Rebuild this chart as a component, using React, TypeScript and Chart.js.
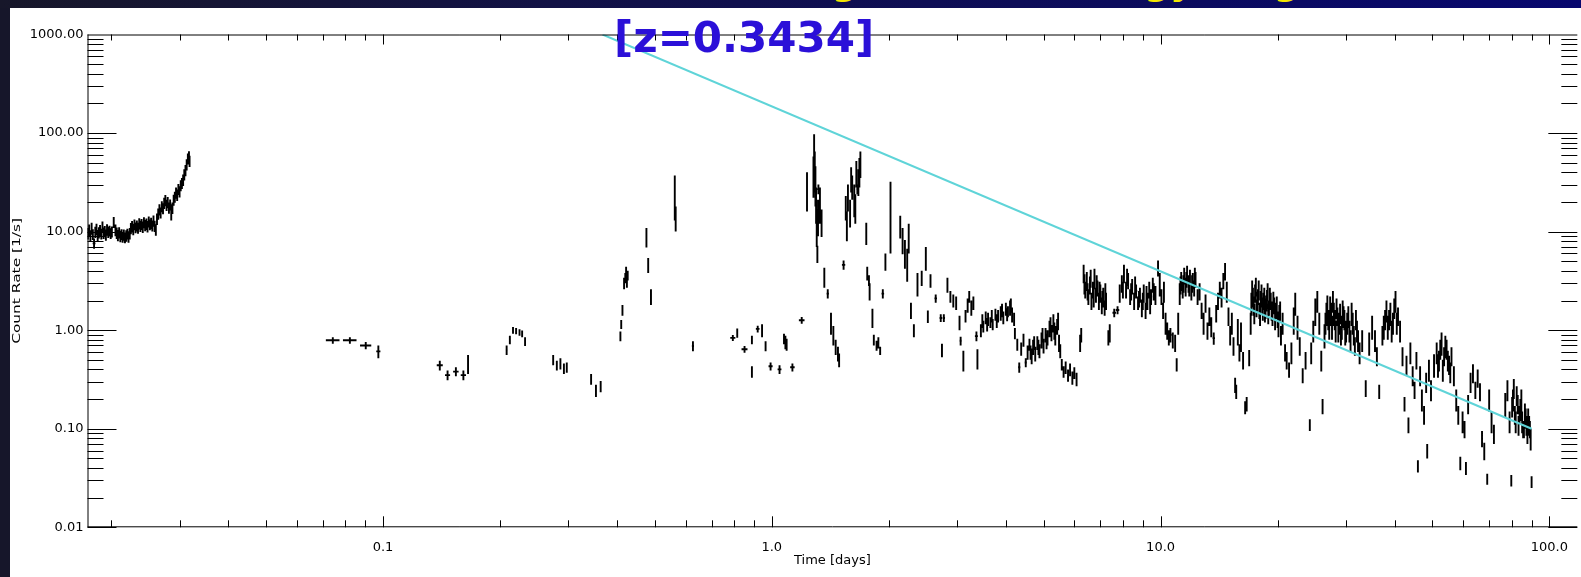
import React, { useEffect, useRef } from 'react';
import { Chart, registerables } from 'chart.js';

Chart.register(...registerables);

// Axis ranges and labels
const X_MIN = 0.01738;
const X_MAX = 118;
const Y_MIN = 0.01;
const Y_MAX = 1000;
const xTickValues = [0.1, 1, 10, 100];
const xTickLabels = ['0.1', '1.0', '10.0', '100.0'];
const yTickValues = [0.01, 0.1, 1, 10, 100, 1000];
const yTickLabels = ['0.01', '0.10', '1.00', '10.00', '100.00', '1000.00'];
const xTitle = 'Time [days]';
const yTitle = 'Count Rate [1/s]';
const redshiftLabel = '[z=0.3434]';
const bannerText = 'Swift-XRT light curve, energy range 0.3–10 keV (Burst Analyser)';

// Power-law decay model (cyan line): end points
const modelTime = [0.367, 90];
const modelRate = [1000, 0.1];

// Data points: [time (days), count rate (1/s), rate error, time half-width (optional)]
const earlyFlare: number[][] = [
  [0.01742, 9.6, 1.3], [0.01755, 10.4, 1.4], [0.01768, 9.1, 1.2], [0.01781, 10.8, 1.5],
  [0.01794, 9.4, 1.2], [0.01807, 7.6, 0.9, 0.00015], [0.0182, 9.9, 1.3], [0.01833, 10.6, 1.4],
  [0.01846, 9.2, 1.2], [0.01859, 9.8, 1.3], [0.01872, 10.3, 1.4], [0.01886, 9.5, 1.2],
  [0.01899, 11.2, 1.5], [0.01912, 9.7, 1.3], [0.01925, 10.1, 1.3], [0.01938, 9.3, 1.2],
  [0.01951, 10.5, 1.4], [0.01965, 9.9, 1.3], [0.0198, 10.2, 1.3], [0.01994, 9.6, 1.2],
  [0.02008, 10.0, 1.3], [0.0203, 12.5, 1.6], [0.02051, 10.4, 1.4], [0.02066, 9.7, 1.3],
  [0.02081, 9.2, 1.2], [0.02096, 9.8, 1.3], [0.02111, 9.0, 1.2], [0.02126, 9.4, 1.2],
  [0.0214, 8.8, 1.1], [0.02155, 9.3, 1.2], [0.0217, 8.7, 1.1], [0.02186, 9.1, 1.2],
  [0.02201, 9.5, 1.2], [0.02216, 8.9, 1.2], [0.02232, 9.6, 1.3], [0.02247, 10.8, 1.4],
  [0.02263, 11.3, 1.5], [0.02279, 10.6, 1.4], [0.02295, 11.8, 1.5], [0.02311, 11.0, 1.4],
  [0.02328, 11.5, 1.5], [0.02344, 10.9, 1.4], [0.02361, 12.1, 1.6], [0.02377, 11.4, 1.5],
  [0.02394, 11.9, 1.5], [0.02411, 11.2, 1.5], [0.02428, 12.4, 1.6], [0.02445, 11.6, 1.5],
  [0.02463, 12.0, 1.6], [0.0248, 11.3, 1.5], [0.02498, 12.6, 1.6], [0.02515, 11.8, 1.5],
  [0.02533, 12.2, 1.6], [0.02551, 11.5, 1.5], [0.02569, 12.9, 1.7], [0.02587, 11.4, 1.5],
  [0.02605, 10.5, 1.4], [0.02623, 13.5, 1.8], [0.02642, 15.2, 2.0], [0.02661, 16.8, 2.2],
  [0.0268, 15.6, 2.0], [0.02699, 18.0, 2.3], [0.02718, 17.2, 2.2], [0.02737, 19.5, 2.5],
  [0.02756, 20.8, 2.7], [0.02776, 18.6, 2.4], [0.02795, 19.9, 2.6], [0.02815, 17.5, 2.3],
  [0.02835, 18.8, 2.4], [0.02854, 16.0, 3.0], [0.02874, 17.4, 2.3], [0.02895, 21.0, 2.7],
  [0.02915, 22.5, 2.9], [0.02936, 24.8, 3.2], [0.02956, 23.6, 3.1], [0.02977, 27.0, 3.5],
  [0.02998, 25.5, 3.3], [0.03019, 29.5, 3.8], [0.0304, 31.0, 4.0], [0.03062, 33.5, 4.4],
  [0.03083, 38.0, 5.0], [0.03105, 42.0, 5.5], [0.03127, 48.0, 6.2], [0.03149, 55.0, 7.0],
  [0.0317, 58.0, 7.5], [0.03181, 52.0, 6.8],
];

const sparseOrbits: number[][] = [
  [0.0743, 0.79, 0.06, 0.003], [0.0822, 0.79, 0.06, 0.0033], [0.0903, 0.7, 0.06, 0.003],
  [0.0973, 0.61, 0.09, 0.0012], [0.14, 0.44, 0.05, 0.0025], [0.1466, 0.35, 0.04, 0.0022],
  [0.154, 0.38, 0.04, 0.0025], [0.161, 0.35, 0.04, 0.0025], [0.1655, 0.46, 0.1, 0.0008],
  [0.208, 0.63, 0.07, 0.0012], [0.212, 0.8, 0.08, 0.001], [0.216, 1.0, 0.08, 0.0012],
  [0.22, 0.98, 0.07, 0.0012], [0.2245, 0.95, 0.07, 0.0012], [0.228, 0.92, 0.07, 0.0012],
  [0.232, 0.77, 0.08, 0.0008], [0.274, 0.5, 0.06, 0.0015], [0.28, 0.44, 0.05, 0.0015],
  [0.286, 0.46, 0.06, 0.0015], [0.292, 0.41, 0.05, 0.0012], [0.297, 0.42, 0.05, 0.0015],
  [0.343, 0.32, 0.04, 0.0018], [0.353, 0.245, 0.035, 0.002], [0.363, 0.27, 0.035, 0.002],
];

const firstDay: number[][] = [
  [0.408, 0.87, 0.1], [0.41, 1.15, 0.12], [0.413, 1.6, 0.2], [0.417, 3.0, 0.4],
  [0.42, 3.4, 0.4], [0.422, 3.9, 0.5], [0.424, 3.2, 0.5], [0.426, 3.6, 0.4],
  [0.476, 8.9, 2.0], [0.481, 4.6, 0.8], [0.489, 2.2, 0.4], [0.563, 25, 12],
  [0.566, 14, 4], [0.627, 0.69, 0.08, 0.004], [0.794, 0.835, 0.06, 0.012], [0.815, 0.94, 0.1],
  [0.851, 0.64, 0.05, 0.015], [0.889, 0.8, 0.08], [0.889, 0.38, 0.05], [0.92, 1.03, 0.08, 0.01],
  [0.944, 1.0, 0.15], [0.964, 0.69, 0.08], [0.993, 0.43, 0.04, 0.012], [1.047, 0.4, 0.04, 0.012],
  [1.075, 0.82, 0.1], [1.084, 0.76, 0.12], [1.092, 0.72, 0.1], [1.13, 0.42, 0.04, 0.015],
  [1.194, 1.26, 0.1, 0.02],
];

const mainFlares: number[][] = [
  [1.232, 28, 12], [1.28, 40, 18], [1.285, 65, 32], [1.29, 45, 20], [1.295, 32, 14], [1.3, 20, 8],
  [1.305, 12, 5], [1.31, 6.0, 1.2], [1.315, 15, 6], [1.318, 27, 3, 0.01], [1.33, 20, 8],
  [1.343, 12.8, 4], [1.365, 3.5, 0.8], [1.393, 2.35, 0.25, 0.01], [1.42, 1.2, 0.3], [1.44, 0.9, 0.2],
  [1.46, 0.68, 0.12], [1.48, 0.58, 0.1, 0.006], [1.49, 0.5, 0.08], [1.53, 4.6, 0.5, 0.015],
  [1.55, 18, 5], [1.56, 12, 4], [1.57, 23, 7], [1.59, 16, 5], [1.6, 35, 10], [1.61, 29, 8],
  [1.63, 22, 8], [1.64, 18, 6], [1.65, 40, 12], [1.66, 27, 3, 0.01], [1.67, 33, 10], [1.68, 42, 14],
  [1.69, 50, 15], [1.75, 9.8, 2.5], [1.76, 3.8, 0.6], [1.778, 3.2, 0.4, 0.01], [1.785, 2.5, 0.5],
  [1.815, 1.35, 0.3], [1.83, 0.8, 0.1], [1.86, 0.7, 0.08], [1.88, 0.75, 0.1], [1.9, 0.62, 0.06],
  [1.93, 2.35, 0.25, 0.015], [1.96, 5.0, 1.0], [2.02, 19, 13], [2.14, 11.5, 3], [2.17, 8.4, 2.5],
  [2.2, 6.2, 2], [2.23, 4.9, 1.8], [2.25, 9, 3], [2.28, 1.6, 0.3], [2.32, 1.0, 0.15],
  [2.37, 3.0, 0.8], [2.43, 3.4, 0.6], [2.49, 5.5, 1.5], [2.52, 1.38, 0.2], [2.56, 3.2, 0.5],
  [2.64, 2.1, 0.2, 0.02], [2.72, 1.33, 0.12, 0.02], [2.74, 0.63, 0.1], [2.77, 1.33, 0.12, 0.02],
  [2.83, 2.9, 0.5], [2.88, 2.2, 0.3], [2.93, 2.0, 0.3], [2.98, 1.9, 0.3], [3.04, 1.2, 0.2],
  [3.06, 0.78, 0.08, 0.02], [3.11, 0.5, 0.12],
];

const plateau: number[][] = [
  [3.15, 1.4, 0.2], [3.19, 1.8, 0.3], [3.22, 2.2, 0.3], [3.26, 1.7, 0.3], [3.3, 1.9, 0.3],
  [3.36, 0.87, 0.1, 0.03], [3.38, 0.52, 0.12], [3.45, 1.0, 0.15], [3.48, 1.25, 0.2], [3.5, 1.1, 0.15],
  [3.55, 1.35, 0.2], [3.58, 1.15, 0.18], [3.6, 1.3, 0.2], [3.65, 1.2, 0.15], [3.68, 1.4, 0.2],
  [3.7, 1.15, 0.15], [3.76, 1.45, 0.2], [3.79, 1.25, 0.2], [3.82, 1.4, 0.2], [3.88, 1.5, 0.25],
  [3.91, 1.6, 0.25], [3.94, 1.35, 0.2], [4.0, 1.65, 0.25], [4.03, 1.45, 0.22], [4.05, 1.55, 0.2],
  [4.1, 1.7, 0.3], [4.12, 1.8, 0.3], [4.15, 1.45, 0.25], [4.2, 1.3, 0.2], [4.22, 0.93, 0.12],
  [4.28, 0.72, 0.1], [4.33, 0.42, 0.05, 0.03], [4.38, 0.65, 0.1], [4.44, 0.8, 0.12],
  [4.5, 0.47, 0.05, 0.03], [4.55, 0.6, 0.1], [4.6, 0.72, 0.1], [4.63, 0.6, 0.1], [4.66, 0.55, 0.1],
  [4.7, 0.68, 0.12], [4.73, 0.75, 0.12], [4.76, 0.58, 0.1], [4.82, 0.75, 0.12], [4.85, 0.68, 0.12],
  [4.88, 0.62, 0.1], [4.94, 0.8, 0.15], [4.97, 0.9, 0.15], [5.0, 0.7, 0.12], [5.06, 0.9, 0.15],
  [5.09, 0.78, 0.14], [5.12, 0.85, 0.15], [5.18, 1.05, 0.2], [5.21, 1.15, 0.2], [5.24, 0.95, 0.18],
  [5.3, 1.2, 0.25], [5.33, 1.0, 0.2], [5.36, 0.9, 0.2], [5.42, 1.1, 0.2], [5.45, 1.25, 0.25],
  [5.48, 0.75, 0.15], [5.52, 0.62, 0.1], [5.57, 0.45, 0.06], [5.63, 0.38, 0.05], [5.7, 0.42, 0.06],
  [5.78, 0.35, 0.05], [5.85, 0.4, 0.06], [5.93, 0.33, 0.05], [6.0, 0.37, 0.05], [6.08, 0.32, 0.05],
  [6.21, 0.75, 0.15], [6.25, 0.9, 0.15],
];

const secondBump: number[][] = [
  [6.34, 3.8, 0.8], [6.37, 3.0, 0.7], [6.4, 2.6, 0.5], [6.46, 3.2, 0.7], [6.49, 2.5, 0.5],
  [6.52, 2.2, 0.4], [6.58, 2.9, 0.6], [6.61, 3.4, 0.7], [6.64, 2.0, 0.4], [6.7, 2.6, 0.5],
  [6.73, 2.2, 0.5], [6.76, 3.4, 0.8], [6.82, 2.3, 0.4], [6.85, 3.0, 0.6], [6.88, 2.7, 0.5],
  [6.94, 2.0, 0.4], [6.97, 2.6, 0.5], [7.0, 2.4, 0.5], [7.06, 1.8, 0.35], [7.09, 2.1, 0.4],
  [7.12, 2.2, 0.5], [7.18, 1.7, 0.3], [7.21, 2.5, 0.5], [7.24, 2.0, 0.4], [7.34, 0.85, 0.15],
  [7.4, 0.95, 0.2], [7.6, 1.5, 0.15, 0.08], [7.75, 1.6, 0.15, 0.08], [7.85, 2.4, 0.5],
  [7.95, 3.0, 0.6], [8.0, 2.6, 0.5], [8.05, 3.8, 0.8], [8.15, 2.6, 0.5], [8.2, 3.5, 0.7],
  [8.25, 3.2, 0.6], [8.35, 2.2, 0.4], [8.4, 2.5, 0.5], [8.45, 2.8, 0.5], [8.55, 2.0, 0.4],
  [8.6, 2.9, 0.6], [8.65, 2.5, 0.4, 0.06], [8.75, 1.9, 0.3], [8.8, 2.1, 0.4], [8.85, 2.3, 0.4],
  [8.95, 1.7, 0.35], [9.0, 2.0, 0.4], [9.05, 2.4, 0.5], [9.15, 1.6, 0.3], [9.2, 2.3, 0.5],
  [9.25, 2.0, 0.4], [9.35, 2.6, 0.5], [9.4, 1.8, 0.35], [9.45, 2.2, 0.4, 0.06], [9.55, 2.9, 0.5],
  [9.6, 2.5, 0.5], [9.7, 2.3, 0.5], [9.85, 4.3, 0.8], [9.95, 3.0, 0.8], [10.05, 2.2, 0.4],
  [10.15, 1.6, 0.3], [10.2, 2.5, 0.6], [10.3, 1.2, 0.3], [10.4, 1.0, 0.2], [10.5, 0.85, 0.15],
  [10.6, 0.9, 0.15, 0.08], [10.75, 0.8, 0.15], [10.9, 0.75, 0.15], [11.0, 0.45, 0.07],
  [11.1, 1.2, 0.3], [11.2, 2.4, 0.6], [11.25, 2.9, 0.6], [11.3, 3.2, 0.7], [11.4, 2.6, 0.5],
  [11.45, 3.0, 0.6], [11.5, 3.6, 0.7], [11.6, 2.8, 0.6], [11.65, 3.3, 0.6], [11.7, 3.8, 0.7],
  [11.8, 3.0, 0.6], [11.85, 2.7, 0.5], [11.9, 3.5, 0.6], [12.0, 2.5, 0.5], [12.05, 3.0, 0.6],
  [12.1, 3.2, 0.6], [12.2, 2.7, 0.5], [12.25, 3.6, 0.7], [12.3, 3.3, 0.6], [12.45, 2.2, 0.4],
  [12.6, 2.5, 0.5],
];

const lateDecay: number[][] = [
  [12.75, 1.6, 0.3], [12.9, 1.2, 0.3], [13.05, 1.9, 0.4], [13.2, 1.0, 0.2], [13.35, 1.4, 0.3],
  [13.5, 1.1, 0.25], [13.7, 0.83, 0.12, 0.1], [13.9, 1.5, 0.3], [14.05, 2.0, 0.4], [14.2, 2.6, 0.5],
  [14.35, 2.2, 0.5], [14.5, 3.2, 0.6], [14.65, 4.0, 0.8], [14.8, 2.5, 0.6], [14.95, 1.4, 0.3],
  [15.1, 0.9, 0.2], [15.25, 1.2, 0.3], [15.4, 0.7, 0.15], [15.55, 0.28, 0.05], [15.65, 0.24, 0.04],
  [15.8, 1.0, 0.3], [15.95, 0.6, 0.12], [16.1, 0.9, 0.3], [16.3, 0.5, 0.1], [16.5, 0.165, 0.025],
  [16.65, 0.18, 0.03], [16.9, 0.53, 0.1], [17.05, 1.2, 0.3], [17.12, 1.9, 0.5], [17.2, 2.6, 0.6],
  [17.28, 2.2, 0.5], [17.35, 1.8, 0.4], [17.42, 1.5, 0.35], [17.5, 2.4, 0.5], [17.58, 2.8, 0.6],
  [17.65, 1.7, 0.35], [17.72, 2.0, 0.45], [17.8, 2.2, 0.4], [17.88, 2.6, 0.6], [17.95, 1.6, 0.3],
  [18.02, 1.4, 0.3], [18.1, 2.1, 0.4], [18.18, 2.4, 0.5], [18.25, 1.8, 0.35], [18.32, 1.6, 0.35],
  [18.4, 2.0, 0.4], [18.48, 2.2, 0.5], [18.55, 1.5, 0.3], [18.62, 1.7, 0.4], [18.7, 1.9, 0.35],
  [18.78, 2.1, 0.45], [18.85, 2.5, 0.5], [18.92, 1.5, 0.35], [19.0, 1.7, 0.3], [19.1, 2.2, 0.5],
  [19.2, 2.0, 0.4], [19.3, 1.6, 0.35], [19.4, 1.4, 0.3], [19.5, 2.0, 0.45], [19.6, 1.8, 0.35],
  [19.7, 1.3, 0.3], [19.8, 1.6, 0.3], [19.9, 1.8, 0.4], [20.0, 1.3, 0.25], [20.1, 1.1, 0.25],
  [20.2, 1.5, 0.3], [20.3, 1.6, 0.35], [20.4, 0.9, 0.2], [20.6, 1.2, 0.3], [20.9, 0.6, 0.12],
  [21.1, 0.5, 0.1], [21.4, 0.4, 0.07], [21.7, 0.6, 0.15], [22.0, 1.3, 0.4], [22.2, 1.9, 0.5],
  [22.5, 1.1, 0.3], [22.8, 0.7, 0.15], [23.2, 0.35, 0.06], [23.6, 0.5, 0.1], [24.2, 0.11, 0.015],
  [24.4, 0.6, 0.15], [24.7, 1.0, 0.25], [25.0, 1.6, 0.5], [25.3, 2.0, 0.5], [25.6, 1.2, 0.3],
  [25.9, 0.5, 0.12], [26.1, 0.17, 0.03], [26.4, 0.9, 0.25], [26.55, 1.2, 0.3], [26.7, 1.5, 0.4],
  [26.85, 1.8, 0.45], [27.0, 1.3, 0.3], [27.15, 1.1, 0.3], [27.3, 1.8, 0.4], [27.45, 1.5, 0.4],
  [27.6, 1.1, 0.3], [27.75, 2.0, 0.5], [27.9, 1.5, 0.4], [28.05, 1.3, 0.3], [28.2, 1.0, 0.25],
  [28.35, 1.7, 0.4], [28.5, 1.4, 0.3], [28.65, 1.0, 0.25], [28.8, 1.2, 0.3], [28.95, 1.5, 0.35],
  [29.1, 0.9, 0.2], [29.25, 1.1, 0.3], [29.4, 1.6, 0.4], [29.55, 1.4, 0.35], [29.7, 1.3, 0.3],
  [29.85, 0.9, 0.2],
];

const finalTail: number[][] = [
  [30.0, 1.0, 0.25], [30.2, 1.2, 0.3], [30.4, 1.4, 0.35], [30.6, 1.0, 0.25], [30.8, 0.8, 0.2],
  [31.0, 1.5, 0.4], [31.2, 1.2, 0.3], [31.4, 0.9, 0.2], [31.6, 0.7, 0.15], [31.8, 1.3, 0.3],
  [32.0, 1.0, 0.25], [32.2, 0.8, 0.2], [32.5, 0.6, 0.15], [33.0, 0.8, 0.2], [33.7, 0.26, 0.05],
  [34.4, 0.75, 0.2], [35.0, 1.1, 0.3], [35.6, 0.8, 0.2], [36.0, 0.55, 0.12], [36.5, 0.24, 0.04],
  [37.2, 0.9, 0.2], [37.5, 1.1, 0.3], [37.8, 1.3, 0.3], [38.1, 1.6, 0.4], [38.4, 1.1, 0.3],
  [38.7, 1.3, 0.3], [39.0, 1.5, 0.4], [39.3, 1.0, 0.25], [39.6, 1.2, 0.3], [39.9, 1.7, 0.4],
  [40.2, 2.0, 0.5], [40.5, 1.2, 0.3], [40.8, 1.4, 0.3], [41.3, 1.0, 0.25], [41.9, 0.55, 0.12],
  [42.4, 0.18, 0.03], [42.9, 0.45, 0.1], [43.4, 0.11, 0.02], [43.9, 0.6, 0.15], [44.5, 0.35, 0.08],
  [45.0, 0.25, 0.05], [45.5, 0.5, 0.1], [45.9, 0.042, 0.006], [46.5, 0.35, 0.08], [47.0, 0.2, 0.05],
  [47.6, 0.14, 0.03], [48.2, 0.3, 0.07], [48.5, 0.06, 0.01], [49.0, 0.4, 0.1], [49.6, 0.25, 0.06],
  [50.5, 0.45, 0.12], [51.3, 0.6, 0.15], [51.7, 0.45, 0.12], [52.0, 0.5, 0.12], [52.4, 0.65, 0.15],
  [52.8, 0.75, 0.2], [53.2, 0.4, 0.1], [53.6, 0.55, 0.12], [54.0, 0.7, 0.18], [54.4, 0.65, 0.15],
  [54.8, 0.5, 0.12], [55.2, 0.45, 0.1], [55.6, 0.38, 0.09], [56.0, 0.55, 0.12], [56.8, 0.35, 0.08],
  [57.6, 0.2, 0.05], [58.3, 0.14, 0.03], [59.0, 0.045, 0.007], [59.8, 0.12, 0.03], [60.5, 0.1, 0.02],
  [61.0, 0.04, 0.006], [61.8, 0.18, 0.04], [62.7, 0.3, 0.07], [63.6, 0.37, 0.08], [64.5, 0.25, 0.05],
  [65.4, 0.33, 0.07], [66.3, 0.24, 0.05], [67.1, 0.08, 0.015], [68.0, 0.06, 0.012],
  [69.2, 0.031, 0.004], [70.0, 0.2, 0.05], [71.0, 0.12, 0.03], [72.0, 0.09, 0.02], [77.0, 0.18, 0.05],
  [78.0, 0.25, 0.06], [79.0, 0.12, 0.03], [79.8, 0.03, 0.004], [80.2, 0.17, 0.04], [80.6, 0.2, 0.05],
  [81.0, 0.26, 0.06], [81.5, 0.14, 0.03], [81.9, 0.12, 0.03], [82.4, 0.22, 0.05], [82.9, 0.18, 0.04],
  [83.3, 0.11, 0.025], [83.8, 0.14, 0.03], [84.2, 0.16, 0.04], [84.7, 0.2, 0.05], [85.1, 0.12, 0.03],
  [85.6, 0.1, 0.02], [86.0, 0.1, 0.02], [86.5, 0.15, 0.03], [86.9, 0.13, 0.03], [87.3, 0.11, 0.025],
  [87.8, 0.09, 0.02], [88.2, 0.13, 0.03], [88.7, 0.11, 0.025], [89.1, 0.1, 0.02], [89.5, 0.08, 0.02],
  [90.0, 0.029, 0.004],
];

const allPoints = [
  ...earlyFlare, ...sparseOrbits, ...firstDay, ...mainFlares,
  ...plateau, ...secondBump, ...lateDecay, ...finalTail,
];

function buildErrorBars() {
  const segs: { x: number; y: number | null }[] = [];
  for (const p of allPoints) {
    const [t, r, e, dt] = p;
    segs.push({ x: t, y: r - e }, { x: t, y: r + e }, { x: t, y: null });
    if (dt) segs.push({ x: t - dt, y: r }, { x: t + dt, y: r }, { x: t, y: null });
  }
  return segs;
}

const axisFramePlugin = {
  id: 'axisFrame',
  afterDraw(chart: any) {
    const { ctx, chartArea, scales } = chart;
    const { left, right, top, bottom } = chartArea;
    const xs = scales.x;
    const ys = scales.y;
    ctx.save();
    ctx.strokeStyle = '#000';
    ctx.lineWidth = 1;
    ctx.beginPath();
    ctx.moveTo(left, top + 0.5);
    ctx.lineTo(right, top + 0.5);
    ctx.moveTo(left + 0.5, top);
    ctx.lineTo(left + 0.5, bottom);
    ctx.moveTo(left, bottom - 0.5);
    ctx.lineTo(right, bottom - 0.5);
    for (let d = -2; d <= 2; d++) {
      for (let m = 1; m <= 9; m++) {
        const v = m * Math.pow(10, d);
        if (v >= X_MIN && v <= X_MAX) {
          const px = Math.round(xs.getPixelForValue(v)) + 0.5;
          const len = m === 1 ? 11 : 7;
          ctx.moveTo(px, bottom);
          ctx.lineTo(px, bottom - len);
          ctx.moveTo(px, top);
          ctx.lineTo(px, top + (m === 1 ? 10 : 6));
        }
        const w = m * Math.pow(10, d);
        if (w >= Y_MIN && w <= Y_MAX) {
          const py = Math.round(ys.getPixelForValue(w)) + 0.5;
          const len = m === 1 ? 29 : 16;
          ctx.moveTo(left, py);
          ctx.lineTo(left + len, py);
          ctx.moveTo(right, py);
          ctx.lineTo(right - len, py);
        }
      }
    }
    ctx.stroke();

    ctx.fillStyle = '#000';
    ctx.font = '13px "DejaVu Sans"';
    ctx.textAlign = 'center';
    ctx.textBaseline = 'alphabetic';
    ctx.fillText(xTitle, (left + right) / 2, 556);

    ctx.translate(10, (top + bottom) / 2);
    ctx.rotate(-Math.PI / 2);
    ctx.scale(1.4, 1);
    ctx.font = '11px "DejaVu Sans"';
    ctx.fillText(yTitle, 0, 0);
    ctx.restore();
  },
};

export default function App() {
  const canvasRef = useRef<HTMLCanvasElement>(null);

  useEffect(() => {
    document.body.style.margin = '0';
    const canvas = canvasRef.current;
    if (!canvas) return;
    const chart = new Chart(canvas, {
      type: 'scatter',
      data: {
        datasets: [
          {
            label: 'Power-law model',
            data: modelTime.map((t, i) => ({ x: t, y: modelRate[i] })),
            showLine: true,
            borderColor: 'rgb(95, 212, 216)',
            borderWidth: 2,
            pointRadius: 0,
            order: 0,
          },
          {
            label: 'XRT count rate',
            data: buildErrorBars(),
            showLine: true,
            spanGaps: false,
            borderColor: '#000',
            borderWidth: 1.9,
            borderCapStyle: 'butt',
            pointRadius: 0,
            order: 1,
          },
        ],
      },
      options: {
        animation: false,
        responsive: false,
        devicePixelRatio: 1,
        layout: { padding: { left: 0, top: 26.5, right: 0, bottom: 0 } },
        plugins: { legend: { display: false }, tooltip: { enabled: false } },
        scales: {
          x: {
            type: 'logarithmic',
            min: X_MIN,
            max: X_MAX,
            grid: { display: false, drawTicks: false },
            border: { display: false },
            afterBuildTicks: (s: any) => {
              s.ticks = xTickValues.map((v) => ({ value: v }));
            },
            afterFit: (s: any) => {
              s.height = 49.7;
            },
            ticks: {
              autoSkip: false,
              maxRotation: 0,
              minRotation: 0,
              padding: 13,
              color: '#000',
              font: { family: 'DejaVu Sans', size: 13 },
              callback: (_v: any, i: number) => xTickLabels[i],
            },
          },
          y: {
            type: 'logarithmic',
            min: Y_MIN,
            max: Y_MAX,
            grid: { display: false, drawTicks: false },
            border: { display: false },
            afterBuildTicks: (s: any) => {
              s.ticks = yTickValues.map((v) => ({ value: v }));
            },
            afterFit: (s: any) => {
              s.width = 77.5;
            },
            ticks: {
              autoSkip: false,
              padding: 4,
              color: '#000',
              font: { family: 'DejaVu Sans', size: 13 },
              callback: (_v: any, i: number) => yTickLabels[i],
            },
          },
        },
      },
      plugins: [axisFramePlugin],
    } as any);
    return () => chart.destroy();
  }, []);

  return (
    <div
      style={{
        position: 'relative',
        width: 1581,
        height: 577,
        overflow: 'hidden',
        background: '#16162a',
        fontFamily: '"DejaVu Sans"',
      }}
    >
      <div
        style={{
          position: 'absolute',
          left: 0,
          top: 0,
          width: 1581,
          height: 8,
          overflow: 'hidden',
          background: 'linear-gradient(to right, #17172a 0%, #121246 35%, #07076e 100%)',
        }}
      >
        <span
          style={{
            position: 'absolute',
            left: 600,
            top: -35,
            font: 'bold 36px "DejaVu Sans"',
            lineHeight: '36px',
            color: '#f2e600',
            whiteSpace: 'nowrap',
          }}
        >
          {bannerText}
        </span>
      </div>
      <div
        style={{
          position: 'absolute',
          left: 10,
          top: 8,
          width: 1571,
          height: 569,
          background: '#ffffff',
        }}
      >
        <canvas ref={canvasRef} width={1571} height={569} style={{ display: 'block', width: 1571, height: 569 }} />
      </div>
      <div
        style={{
          position: 'absolute',
          left: 614,
          top: 16.5,
          font: 'bold 42px "DejaVu Sans"',
          lineHeight: '42px',
          color: '#2b10d8',
          whiteSpace: 'nowrap',
        }}
      >
        {redshiftLabel}
      </div>
    </div>
  );
}
